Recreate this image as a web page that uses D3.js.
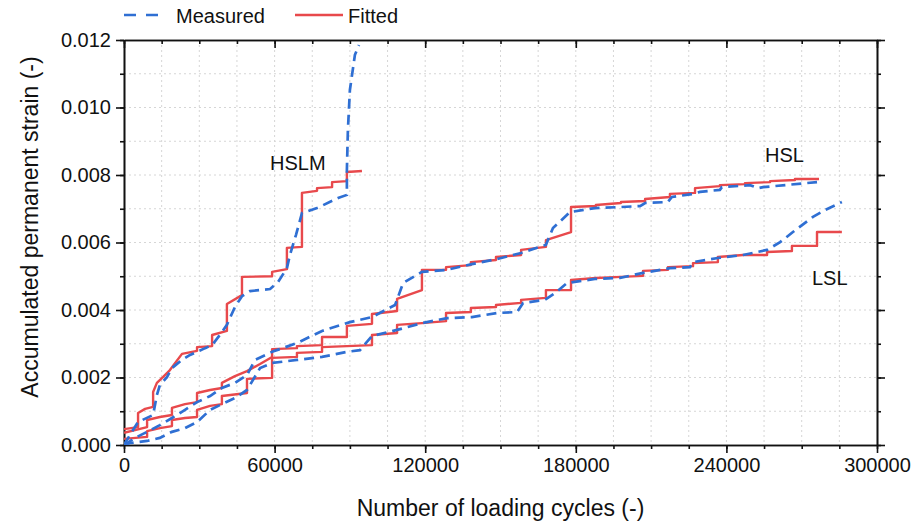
<!DOCTYPE html>
<html>
<head>
<meta charset="utf-8">
<title>Accumulated permanent strain</title>
<script src="https://d3js.org/d3.v7.min.js"></script>
<style>
  body { margin: 0; background: #fff; }
  text { font-family: "Liberation Sans", Arial, sans-serif; fill: #111; }
</style>
</head>
<body>
<svg id="chart" width="914" height="523"></svg>
<script>
// [loading cycles, accumulated permanent strain]
var hslmMeasured = [
  [0, 0], [2400, 0.0003], [5600, 0.00068], [11600, 0.00089], [13100, 0.00148],
  [14300, 0.00178], [17100, 0.00201], [19100, 0.00228], [23100, 0.00252],
  [26300, 0.00267], [29100, 0.00276], [32300, 0.00287], [35100, 0.00296],
  [38200, 0.00326], [41000, 0.00356], [44200, 0.00409], [47000, 0.00441],
  [50200, 0.00456], [58200, 0.00462], [61400, 0.00483], [64900, 0.00524],
  [66100, 0.00563], [68500, 0.00622], [70900, 0.00687], [76900, 0.00702],
  [85300, 0.00732], [88800, 0.00741], [88800, 0.00815], [89200, 0.00933],
  [90000, 0.01052], [92000, 0.01156], [93600, 0.01185]
];
var hslmFitted = [
  [0, 0.00047], [5600, 0.00053], [5600, 0.00095], [8400, 0.00107], [11600, 0.00113],
  [11600, 0.00157], [13100, 0.00184], [15500, 0.00201], [18300, 0.00222],
  [23100, 0.00270], [29100, 0.00279], [29100, 0.0029], [35100, 0.00293],
  [35100, 0.00326], [41000, 0.00338], [41000, 0.00418], [47000, 0.00444],
  [47000, 0.00498], [59000, 0.00500], [59000, 0.00513], [64900, 0.00521],
  [64900, 0.00584], [70900, 0.00587], [70900, 0.00747], [76900, 0.00753],
  [76900, 0.00761], [82900, 0.00764], [82900, 0.00779], [88800, 0.00782],
  [88800, 0.00809], [94800, 0.00812]
];
var hslMeasured = [
  [0, 0], [4400, 0.00021], [9200, 0.00039], [14300, 0.00059], [19100, 0.0008],
  [24300, 0.00104], [29100, 0.00127], [34300, 0.00145], [39000, 0.00169],
  [44200, 0.00184], [49000, 0.00207], [52200, 0.00252], [59000, 0.00276],
  [68900, 0.00302], [78900, 0.00338], [90000, 0.00364], [98800, 0.00379],
  [108000, 0.00415], [109200, 0.00439], [111200, 0.0048], [118700, 0.00513],
  [128700, 0.00519], [138600, 0.00536], [148600, 0.00551], [158200, 0.00569],
  [168100, 0.00593], [170900, 0.00643], [177700, 0.0069], [187600, 0.00702],
  [197600, 0.00705], [205600, 0.00708], [207600, 0.00717], [216700, 0.0072],
  [218300, 0.00735], [226700, 0.00744], [229500, 0.0075], [237400, 0.00756],
  [238200, 0.00764], [249400, 0.0077], [252600, 0.00761], [254600, 0.00764],
  [276100, 0.00779]
];
var hslFitted = [
  [0, 0.00036], [9200, 0.00053], [9200, 0.00074], [14300, 0.00083], [19100, 0.00089],
  [19100, 0.0011], [24300, 0.00121], [29100, 0.00127], [29100, 0.00154],
  [34300, 0.00163], [39000, 0.00169], [39000, 0.00184], [44200, 0.00204],
  [49000, 0.00219], [54200, 0.0024], [59000, 0.00261], [59000, 0.00284],
  [68900, 0.00287], [68900, 0.00293], [78900, 0.00296], [78900, 0.0032],
  [88800, 0.0032], [88800, 0.00353], [98800, 0.00359], [98800, 0.00388],
  [108800, 0.00397], [108800, 0.00433], [118700, 0.00459], [118700, 0.00519],
  [128300, 0.00519], [128300, 0.00527], [138200, 0.00533], [138200, 0.00542],
  [148200, 0.00548], [148200, 0.00557], [158200, 0.00563], [158200, 0.00578],
  [168100, 0.00587], [168100, 0.00607], [178100, 0.00631], [178100, 0.00705],
  [188000, 0.00708], [188000, 0.00711], [198000, 0.00717], [198000, 0.0072],
  [207600, 0.00723], [207600, 0.00729], [217500, 0.00735], [217500, 0.00744],
  [227500, 0.00747], [227500, 0.00761], [237400, 0.00767], [237400, 0.0077],
  [247400, 0.00773], [247400, 0.00776], [257400, 0.00779], [257400, 0.00782],
  [267300, 0.00785], [267300, 0.00788], [276900, 0.00788]
];
var lslMeasured = [
  [0, 0], [2400, 0.00006], [9200, 0.00012], [14300, 0.00021], [19100, 0.00039],
  [24300, 0.0005], [29100, 0.00068], [34300, 0.00104], [39000, 0.00121],
  [44200, 0.00139], [49000, 0.00163], [54200, 0.00228], [59000, 0.00243],
  [68900, 0.00252], [78900, 0.00261], [88800, 0.00276], [94000, 0.00281],
  [98800, 0.00323], [108800, 0.00341], [118700, 0.00361], [128700, 0.00376],
  [138600, 0.00379], [148600, 0.00391], [156600, 0.00394], [159000, 0.00421],
  [167700, 0.0043], [171700, 0.0045], [176500, 0.0048], [187600, 0.00492],
  [197600, 0.00495], [206800, 0.0051], [217500, 0.00524], [225500, 0.00527],
  [226700, 0.00542], [236600, 0.00554], [246600, 0.00563], [256200, 0.00578],
  [261400, 0.00601], [266500, 0.00631], [274500, 0.00676], [279300, 0.00696],
  [286000, 0.0072]
];
var lslFitted = [
  [0, 0.00018], [9200, 0.00024], [9200, 0.00041], [14300, 0.0005], [19100, 0.00056],
  [19100, 0.00074], [24300, 0.0008], [29100, 0.00083], [29100, 0.00104],
  [34300, 0.00116], [39000, 0.00121], [39000, 0.00145], [49000, 0.00154],
  [49000, 0.00196], [59000, 0.00199], [59000, 0.00258], [68900, 0.00261],
  [68900, 0.00273], [78900, 0.00276], [78900, 0.0029], [88800, 0.00293],
  [98800, 0.00296], [98800, 0.00326], [108800, 0.00332], [108800, 0.00356],
  [118700, 0.00361], [128300, 0.00367], [128300, 0.00391], [138200, 0.00394],
  [138200, 0.00406], [148200, 0.00409], [148200, 0.00415], [158200, 0.00421],
  [158200, 0.0043], [168100, 0.00436], [168100, 0.00459], [178100, 0.00459],
  [178100, 0.00489], [188000, 0.00495], [198000, 0.00498], [206800, 0.00501],
  [206800, 0.00516], [216700, 0.00519], [216700, 0.00527], [226700, 0.0053],
  [226700, 0.00539], [236600, 0.00542], [236600, 0.00557], [246600, 0.00563],
  [256200, 0.00563], [256200, 0.00572], [266100, 0.00575], [266100, 0.0059],
  [276100, 0.0059], [276100, 0.00631], [286000, 0.00631]
];

var xTicks = [0, 60000, 120000, 180000, 240000, 300000];
var yTicks = [0, 0.002, 0.004, 0.006, 0.008, 0.010, 0.012];
var legendNames = ["Measured", "Fitted"];
var curveNames = ["HSLM", "HSL", "LSL"];

(function() {
  var blue = "#2f6fd3", red = "#e8494c";

  var svg = d3.select("#chart");
  var mLeft = 124, mRight = 877, mTop = 40, mBottom = 445;

  var x = d3.scaleLinear().domain([0, 300000]).range([mLeft, mRight]);
  var y = d3.scaleLinear().domain([0, 0.012]).range([mBottom, mTop]);

  var minorX = d3.range(0, 300001, 15000);
  var minorY = d3.range(0, 13).map(function(i) { return i * 0.001; });

  // dotted grid
  svg.append("g").selectAll("line").data(minorX.slice(1, -1)).enter().append("line")
    .attr("x1", function(d) { return x(d); }).attr("x2", function(d) { return x(d); })
    .attr("y1", mTop).attr("y2", mBottom)
    .attr("stroke", "#d6d6d6").attr("stroke-dasharray", "2,3");
  svg.append("g").selectAll("line").data(minorY.slice(1, -1)).enter().append("line")
    .attr("y1", function(d) { return y(d); }).attr("y2", function(d) { return y(d); })
    .attr("x1", mLeft).attr("x2", mRight)
    .attr("stroke", "#d6d6d6").attr("stroke-dasharray", "2,3");

  // axes
  function styleAxis(g) {
    g.selectAll("path, line").attr("stroke", "#111").attr("stroke-width", 1.6);
    g.selectAll("text").attr("font-size", 20).attr("fill", "#111")
      .attr("font-family", "Liberation Sans, Arial, sans-serif");
  }
  svg.append("g").attr("transform", "translate(0," + mBottom + ")")
    .call(d3.axisBottom(x).tickValues(minorX).tickSize(4).tickSizeOuter(0).tickFormat(""))
    .call(styleAxis);
  svg.append("g").attr("transform", "translate(0," + mBottom + ")")
    .call(d3.axisBottom(x).tickValues(xTicks).tickSize(8).tickPadding(5).tickSizeOuter(0).tickFormat(d3.format("d")))
    .call(styleAxis);
  svg.append("g").attr("transform", "translate(" + mLeft + ",0)")
    .call(d3.axisLeft(y).tickValues(minorY).tickSize(4).tickSizeOuter(0).tickFormat(""))
    .call(styleAxis);
  svg.append("g").attr("transform", "translate(" + mLeft + ",0)")
    .call(d3.axisLeft(y).tickValues(yTicks).tickSize(8).tickPadding(5).tickSizeOuter(0).tickFormat(d3.format(".3f")))
    .call(styleAxis);
  svg.append("g").attr("transform", "translate(0," + mTop + ")")
    .call(d3.axisTop(x).tickValues(minorX).tickSize(-4).tickSizeOuter(0).tickFormat(""))
    .call(styleAxis);
  svg.append("g").attr("transform", "translate(0," + mTop + ")")
    .call(d3.axisTop(x).tickValues(xTicks).tickSize(-8).tickSizeOuter(0).tickFormat(""))
    .call(styleAxis);
  svg.append("g").attr("transform", "translate(" + mRight + ",0)")
    .call(d3.axisRight(y).tickValues(minorY).tickSize(4).tickSizeOuter(0).tickFormat(""))
    .call(styleAxis);
  svg.append("g").attr("transform", "translate(" + mRight + ",0)")
    .call(d3.axisRight(y).tickValues(yTicks).tickSize(8).tickSizeOuter(0).tickFormat(""))
    .call(styleAxis);

  // axis titles
  svg.append("text").attr("x", (mLeft + mRight) / 2).attr("y", 516)
    .attr("text-anchor", "middle").attr("font-size", 23)
    .text("Number of loading cycles (-)");
  svg.append("text").attr("transform", "translate(38,227) rotate(-90)")
    .attr("text-anchor", "middle").attr("font-size", 23)
    .text("Accumulated permanent strain (-)");

  // curves
  svg.append("clipPath").attr("id", "plot").append("rect")
    .attr("x", mLeft).attr("y", mTop).attr("width", mRight - mLeft).attr("height", mBottom - mTop);
  var line = d3.line().x(function(d) { return x(d[0]); }).y(function(d) { return y(d[1]); });
  var curves = svg.append("g").attr("clip-path", "url(#plot)");

  [hslmFitted, hslFitted, lslFitted].forEach(function(s) {
    curves.append("path").datum(s).attr("d", line)
      .attr("fill", "none").attr("stroke", red).attr("stroke-width", 2.4)
      .attr("stroke-linejoin", "round");
  });
  [hslmMeasured, hslMeasured, lslMeasured].forEach(function(s) {
    curves.append("path").datum(s).attr("d", line)
      .attr("fill", "none").attr("stroke", blue).attr("stroke-width", 2.7)
      .attr("stroke-dasharray", "10,6");
  });

  // curve labels
  svg.append("text").attr("x", x(58200)).attr("y", y(0.00815)).attr("font-size", 20).text(curveNames[0]);
  svg.append("text").attr("x", x(255400)).attr("y", y(0.00839)).attr("font-size", 20).text(curveNames[1]);
  svg.append("text").attr("x", x(274100)).attr("y", y(0.00474)).attr("font-size", 20).text(curveNames[2]);

  // legend
  var legend = svg.append("g");
  legend.append("line").attr("x1", 124).attr("x2", 160).attr("y1", 15).attr("y2", 15)
    .attr("stroke", blue).attr("stroke-width", 2.7).attr("stroke-dasharray", "12,10");
  legend.append("text").attr("x", 176).attr("y", 23).attr("font-size", 20).text(legendNames[0]);
  legend.append("line").attr("x1", 295).attr("x2", 343).attr("y1", 15).attr("y2", 15)
    .attr("stroke", red).attr("stroke-width", 2.4);
  legend.append("text").attr("x", 348).attr("y", 23).attr("font-size", 20).text(legendNames[1]);
})();
</script>
</body>
</html>
